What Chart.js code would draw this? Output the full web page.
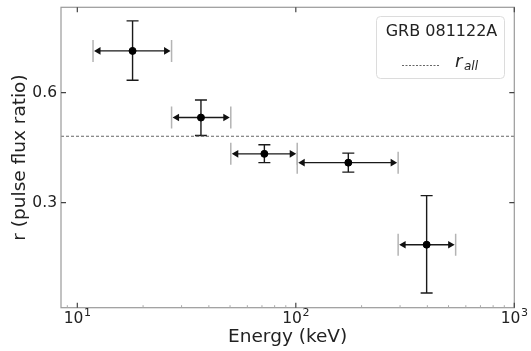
<!DOCTYPE html>
<html>
<head>
<meta charset="utf-8">
<script src="https://cdn.jsdelivr.net/npm/chart.js@4.4.1/dist/chart.umd.min.js"></script>
<style>
  html, body { margin: 0; padding: 0; background: #fff; }
</style>
</head>
<body>
<canvas id="c" width="531" height="351"></canvas>
<script>
// energy bins (keV) and pulse flux ratio with errors
const energy = [17.9, 36.8, 71.8, 173.9, 397]
const energyLow = [11.8, 27.0, 50.4, 101.5, 294]
const energyHigh = [27.0, 50.4, 101.5, 294, 539]
const ratio = [0.714, 0.532, 0.433, 0.409, 0.185]
const ratioLow = [0.634, 0.483, 0.409, 0.383, 0.053]
const ratioHigh = [0.796, 0.580, 0.458, 0.435, 0.319]
const rAll = 0.481

const xTickValues = [10, 100, 1000]
const xTickBase = ["10", "10", "10"]
const xTickExp = ["1", "2", "3"]
const yTickValues = [0.3, 0.6]
const yTickLabels = ["0.3", "0.6"]

const X_MIN = 8.42, X_MAX = 1000
const Y_MIN = 0.013, Y_MAX = 0.833

Chart.defaults.font.family = "'DejaVu Sans', sans-serif"
Chart.defaults.color = "#222"

const errorBars = {
  id: "errorBars",
  beforeDatasetsDraw(chart) {
    const { ctx, scales: { x, y } } = chart
    ctx.save()
    energy.forEach((e, i) => {
      const px = x.getPixelForValue(e)
      const py = y.getPixelForValue(ratio[i])
      const x0 = x.getPixelForValue(energyLow[i])
      const x1 = x.getPixelForValue(energyHigh[i])
      const y0 = y.getPixelForValue(ratioLow[i])
      const y1 = y.getPixelForValue(ratioHigh[i])
      // grey caps on the energy bins
      ctx.strokeStyle = "#b4b4b4"
      ctx.lineWidth = 1.5
      ctx.beginPath()
      ctx.moveTo(x0, py - 11); ctx.lineTo(x0, py + 11)
      ctx.moveTo(x1, py - 11); ctx.lineTo(x1, py + 11)
      ctx.stroke()
      // bars
      ctx.strokeStyle = "#1a1a1a"
      ctx.lineWidth = 1.4
      ctx.beginPath()
      ctx.moveTo(x0 + 4, py); ctx.lineTo(x1 - 4, py)
      ctx.moveTo(px, y0); ctx.lineTo(px, y1)
      ctx.moveTo(px - 6, y0); ctx.lineTo(px + 6, y0)
      ctx.moveTo(px - 6, y1); ctx.lineTo(px + 6, y1)
      ctx.stroke()
      // arrow heads
      ctx.fillStyle = "#111"
      ctx.beginPath()
      ctx.moveTo(x0 + 1, py); ctx.lineTo(x0 + 7.5, py - 3.8); ctx.lineTo(x0 + 7.5, py + 3.8); ctx.closePath()
      ctx.moveTo(x1 - 1, py); ctx.lineTo(x1 - 7.5, py - 3.8); ctx.lineTo(x1 - 7.5, py + 3.8); ctx.closePath()
      ctx.fill()
    })
    ctx.restore()
  },
}

const frame = {
  id: "frame",
  afterDatasetsDraw(chart) {
    const { ctx, chartArea: a, scales: { x, y } } = chart
    ctx.save()
    ctx.strokeStyle = "#9a9a9a"
    ctx.lineWidth = 1.2
    ctx.strokeRect(a.left, a.top, a.right - a.left, a.bottom - a.top)
    // major ticks, pointing in, all four sides
    ctx.strokeStyle = "#444"
    ctx.beginPath()
    xTickValues.forEach((v) => {
      const p = x.getPixelForValue(v)
      ctx.moveTo(p, a.bottom); ctx.lineTo(p, a.bottom - 5)
      ctx.moveTo(p, a.top); ctx.lineTo(p, a.top + 5)
    })
    yTickValues.forEach((v) => {
      const p = y.getPixelForValue(v)
      ctx.moveTo(a.left, p); ctx.lineTo(a.left + 5, p)
      ctx.moveTo(a.right, p); ctx.lineTo(a.right - 5, p)
    })
    ctx.stroke()
    // minor ticks on the bottom axis
    ctx.strokeStyle = "#aaa"
    ctx.lineWidth = 1
    ctx.beginPath()
    for (let d = 1; d <= 100; d *= 10) {
      for (let m = 2; m <= 9; m++) {
        const v = m * d
        if (v < X_MIN || v > X_MAX) continue
        const p = x.getPixelForValue(v)
        ctx.moveTo(p, a.bottom); ctx.lineTo(p, a.bottom - 2.5)
      }
    }
    ctx.stroke()
    // x tick labels as 10 with a raised exponent
    ctx.fillStyle = "#222"
    ctx.textBaseline = "alphabetic"
    ctx.textAlign = "left"
    xTickValues.forEach((v, i) => {
      const p = x.getPixelForValue(v)
      ctx.font = "15.5px 'DejaVu Sans'"
      const wb = ctx.measureText(xTickBase[i]).width
      ctx.font = "11px 'DejaVu Sans'"
      const we = ctx.measureText(xTickExp[i]).width
      const left = p - (wb + we + 0.5) / 2
      ctx.font = "15.5px 'DejaVu Sans'"
      ctx.fillText(xTickBase[i], left, a.bottom + 15)
      ctx.font = "11px 'DejaVu Sans'"
      ctx.fillText(xTickExp[i], left + wb + 0.5, a.bottom + 8.5)
    })
    ctx.restore()
  },
}

const legendBox = {
  id: "legendBox",
  afterDraw(chart) {
    const ctx = chart.ctx
    ctx.save()
    ctx.fillStyle = "#fff"
    ctx.strokeStyle = "#dcdcdc"
    ctx.lineWidth = 1
    ctx.beginPath()
    ctx.roundRect(376.5, 16.5, 128, 62, 4)
    ctx.fill()
    ctx.stroke()
    ctx.fillStyle = "#222"
    ctx.font = "16px 'DejaVu Sans'"
    ctx.textAlign = "center"
    ctx.textBaseline = "middle"
    ctx.fillText("GRB 081122A", 441.5, 32)
    ctx.strokeStyle = "#666"
    ctx.setLineDash([2, 1.5])
    ctx.beginPath()
    ctx.moveTo(402, 65.5); ctx.lineTo(440, 65.5)
    ctx.stroke()
    ctx.textAlign = "left"
    ctx.textBaseline = "alphabetic"
    ctx.font = "italic 18px 'DejaVu Sans'"
    ctx.fillText("r", 455, 67)
    ctx.font = "italic 12px 'DejaVu Sans'"
    ctx.fillText("all", 464, 70)
    ctx.restore()
  },
}

new Chart(document.getElementById("c"), {
  type: "scatter",
  data: {
    datasets: [
      {
        label: "r_all",
        type: "line",
        data: [{ x: X_MIN, y: rAll }, { x: X_MAX, y: rAll }],
        borderColor: "#666",
        borderWidth: 1,
        borderDash: [3, 2],
        pointRadius: 0,
        order: 2,
      },
      {
        label: "GRB 081122A",
        data: energy.map((e, i) => ({ x: e, y: ratio[i] })),
        backgroundColor: "#000",
        borderColor: "#000",
        pointRadius: 3.5,
        order: 1,
      },
    ],
  },
  options: {
    responsive: false,
    animation: false,
    devicePixelRatio: 1,
    layout: { padding: { top: 7.3, right: 16.7, left: 0, bottom: 0 } },
    plugins: { legend: { display: false }, tooltip: { enabled: false } },
    scales: {
      x: {
        type: "logarithmic",
        min: X_MIN,
        max: X_MAX,
        grid: { display: false, drawTicks: false },
        border: { display: false },
        afterBuildTicks: (s) => { s.ticks = xTickValues.map((value) => ({ value })) },
        afterFit: (s) => { s.height = 43.3; s.paddingLeft = 0; s.paddingRight = 0 },
        ticks: { display: false },
        title: {
          display: true,
          text: "Energy (keV)",
          font: { size: 18.5 },
          padding: { top: 0, bottom: 3 },
        },
      },
      y: {
        min: Y_MIN,
        max: Y_MAX,
        grid: { display: false, drawTicks: false },
        border: { display: false },
        afterBuildTicks: (s) => { s.ticks = yTickValues.map((value) => ({ value })) },
        afterFit: (s) => { s.width = 61; s.paddingTop = 0; s.paddingBottom = 0 },
        ticks: {
          padding: 4,
          font: { size: 15.5 },
          callback: (v, i) => yTickLabels[i],
        },
        title: {
          display: true,
          text: "r (pulse flux ratio)",
          font: { size: 18.5 },
          padding: { top: 9, bottom: 0 },
        },
      },
    },
  },
  plugins: [errorBars, frame, legendBox],
})
</script>
</body>
</html>
